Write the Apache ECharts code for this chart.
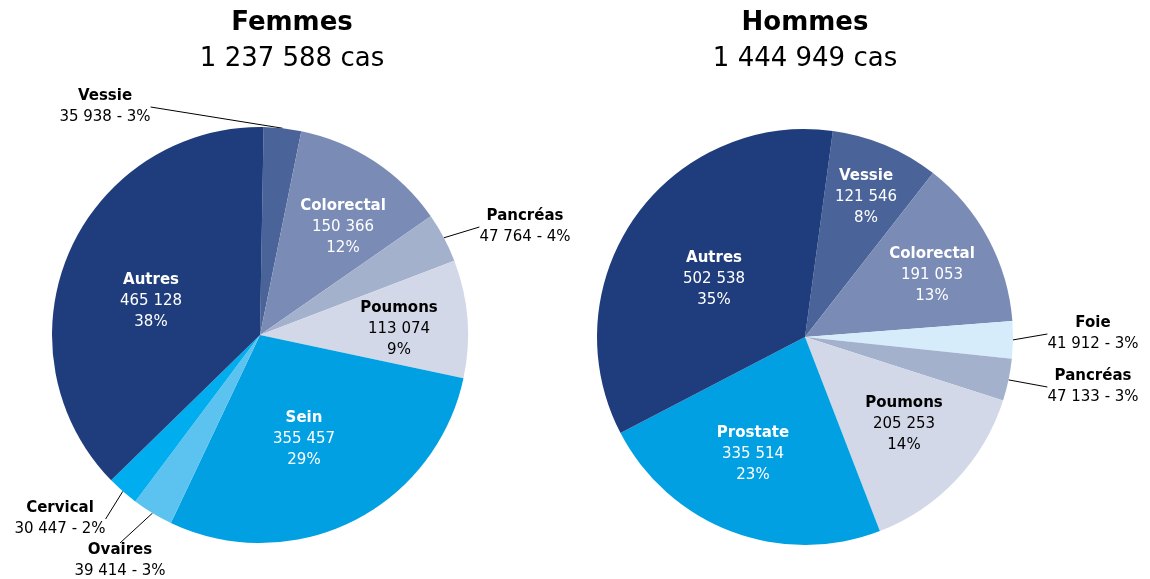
<!DOCTYPE html>
<html>
<head>
<meta charset="utf-8">
<script src="https://cdn.jsdelivr.net/npm/echarts@6/dist/echarts.min.js"></script>
<style>
    html, body { margin: 0; padding: 0; background: #fff; }
    #chart { width: 1150px; height: 579px; }
</style>
</head>
<body>
<div id="chart"></div>
<script>
var femmesNames = ['Vessie', 'Colorectal', 'Pancréas', 'Poumons', 'Sein', 'Ovaires', 'Cervical', 'Autres'];
var femmesValues = [35938, 150366, 47764, 113074, 355457, 39414, 30447, 465128];
var femmesTotal = '1 237 588 cas';

var hommesNames = ['Vessie', 'Colorectal', 'Foie', 'Pancréas', 'Poumons', 'Prostate', 'Autres'];
var hommesValues = [121546, 191053, 41912, 47133, 205253, 335514, 502538];
var hommesTotal = '1 444 949 cas';

var colors = {
    'Vessie': '#4a6398',
    'Colorectal': '#7a8bb6',
    'Pancréas': '#a4b1cd',
    'Poumons': '#d2d8e7',
    'Sein': '#00a0e3',
    'Prostate': '#00a0e3',
    'Ovaires': '#5cc3f0',
    'Cervical': '#00aeef',
    'Foie': '#d6ecfa',
    'Autres': '#1f3d7d'
};

// slices labelled outside the pie, with a leader line
var outside = [['Vessie', 'Pancréas', 'Ovaires', 'Cervical'], ['Foie', 'Pancréas']];
// label centres [x, y]
var labelPos = [
    {'Vessie': [105, 107], 'Colorectal': [343, 227], 'Pancréas': [525, 227], 'Poumons': [399, 329],
     'Sein': [304, 439], 'Ovaires': [120, 561], 'Cervical': [60, 519], 'Autres': [151, 301]},
    {'Vessie': [866, 197], 'Colorectal': [932, 275], 'Foie': [1093, 334], 'Pancréas': [1093, 387],
     'Poumons': [904, 424], 'Prostate': [753, 454], 'Autres': [714, 279]}
];

var font = "'DejaVu Sans', Verdana, sans-serif";

function fmt(n) {
    return String(n).replace(/\B(?=(\d{3})+(?!\d))/g, ' ');
}

function sum(arr) {
    var s = 0;
    for (var i = 0; i < arr.length; i++) s += arr[i];
    return s;
}

function buildData(names, values, outs) {
    var total = sum(values);
    var data = [];
    for (var i = 0; i < names.length; i++) {
        var name = names[i];
        var pct = Math.round(values[i] / total * 100) + '%';
        var item = {name: name, value: values[i], itemStyle: {color: colors[name]}};
        if (outs.indexOf(name) >= 0) {
            item.label = {
                position: 'outside',
                formatter: '{nd|' + name + '}\n{vd|' + fmt(values[i]) + ' - ' + pct + '}'
            };
            item.labelLine = {show: true, length2: 0};
        } else {
            var dark = (name == 'Poumons');
            item.label = {
                position: 'inside',
                formatter: '{' + (dark ? 'nd' : 'n') + '|' + name + '}\n{' + (dark ? 'vd' : 'w') + '|' + fmt(values[i]) + '}\n{' + (dark ? 'vd' : 'w') + '|' + pct + '}'
            };
            item.labelLine = {show: false};
        }
        data.push(item);
    }
    return data;
}

var rich = {
    n: {fontFamily: font, fontSize: 15, fontWeight: 'bold', color: '#fff', lineHeight: 21, align: 'center'},
    w: {fontFamily: font, fontSize: 15, color: '#fff', lineHeight: 21, align: 'center'},
    nd: {fontFamily: font, fontSize: 15, fontWeight: 'bold', color: '#000', lineHeight: 21, align: 'center'},
    vd: {fontFamily: font, fontSize: 15, color: '#000', lineHeight: 21, align: 'center'}
};

function layoutFor(idx, names) {
    return function (params) {
        var p = labelPos[idx][names[params.dataIndex]];
        return {x: p[0], y: p[1], align: 'center', verticalAlign: 'middle'};
    };
}

function pieSeries(idx, names, values, center, startAngle) {
    return {
        type: 'pie',
        center: center,
        radius: 208,
        startAngle: startAngle,
        clockwise: true,
        silent: true,
        avoidLabelOverlap: false,
        itemStyle: {borderWidth: 0},
        label: {show: true, rich: rich, fontFamily: font},
        labelLine: {lineStyle: {color: '#000', width: 1}},
        labelLayout: layoutFor(idx, names),
        data: buildData(names, values, outside[idx])
    };
}

var option = {
    backgroundColor: '#fff',
    animation: false,
    title: [
        {
            text: 'Femmes',
            subtext: femmesTotal,
            left: 287,
            top: 5,
            textAlign: 'center',
            itemGap: 10,
            textStyle: {fontFamily: font, fontSize: 26, fontWeight: 'bold', color: '#000'},
            subtextStyle: {fontFamily: font, fontSize: 26, color: '#000'}
        },
        {
            text: 'Hommes',
            subtext: hommesTotal,
            left: 800,
            top: 5,
            textAlign: 'center',
            itemGap: 10,
            textStyle: {fontFamily: font, fontSize: 26, fontWeight: 'bold', color: '#000'},
            subtextStyle: {fontFamily: font, fontSize: 26, color: '#000'}
        }
    ],
    series: [
        pieSeries(0, femmesNames, femmesValues, [260, 335], 89),
        pieSeries(1, hommesNames, hommesValues, [805, 337], 82.3)
    ]
};

var myChart = echarts.init(document.getElementById('chart'));
myChart.setOption(option);
</script>
</body>
</html>
